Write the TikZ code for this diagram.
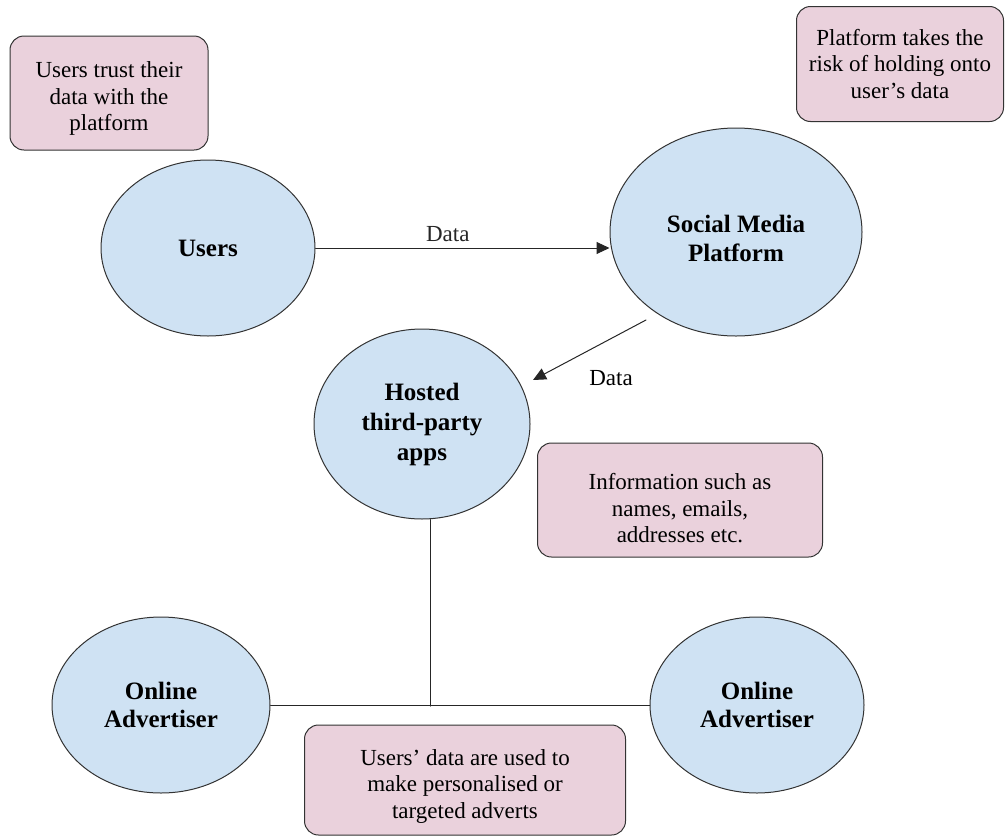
\documentclass[tikz,border=0pt]{standalone}
\usepackage{fontspec}
\setmainfont{Liberation Serif}
\usetikzlibrary{shapes.geometric,arrows.meta}
\definecolor{ovalblue}{RGB}{207,226,243}
\definecolor{notepink}{RGB}{234,209,220}
\begin{document}
\begin{tikzpicture}[x=1pt,y=-1pt,line join=round,line cap=round,
		oval/.style={ellipse,draw=black!80,fill=ovalblue,line width=1pt,inner sep=0pt,align=center,font=\fontsize{25}{28.5}\selectfont\bfseries},
		note/.style={rectangle,rounded corners=14pt,draw=black!80,fill=notepink,line width=1pt,align=center,font=\fontsize{23}{26.5}\selectfont},
		link/.style={black!85,line width=1pt},
		>={Triangle[length=13pt,width=12pt]}]
	\useasboundingbox (0,0) rectangle (1006,838);
	% ovals
	\node[oval,minimum width=214pt,minimum height=176pt] (users) at (208,248) {Users};
	\node[oval,minimum width=252pt,minimum height=208pt,text height=59pt] (platform) at (736,232) {Social Media\\Platform};
	\node[oval,minimum width=216pt,minimum height=190pt,font=\fontsize{25}{30}\selectfont\bfseries] (hosted) at (422,424) {Hosted\\third-party\\apps};
	\node[oval,minimum width=218pt,minimum height=176pt] (advL) at (161,705) {Online\\Advertiser};
	\node[oval,minimum width=214pt,minimum height=176pt] (advR) at (757,705) {Online\\Advertiser};
	% notes
	\node[note,minimum width=198pt,minimum height=114pt,text height=80pt] (trust) at (109,93) {Users trust their\\data with the\\platform};
	\node[note,minimum width=207pt,minimum height=115pt] (risk) at (900,64) {Platform takes the\\risk of holding onto\\user’s data};
	\node[note,minimum width=285pt,minimum height=114pt,text height=85.7pt] (info) at (680,500) {Information such as\\names, emails,\\addresses etc.};
	\node[note,minimum width=321pt,minimum height=110pt,text height=81.7pt] (adverts) at (465,780) {Users’ data are used to\\make personalised or\\targeted adverts};
	% connectors
	\coordinate (d1) at (646,320);
	\coordinate (d2) at (533,380);
	\coordinate (j) at (430,706);
	\draw[link,->] (users) -- (platform.west |- users) node[pos=0.45,above=2pt,font=\fontsize{23}{26.5}\selectfont] (lab1) {Data};
	\draw[link,->] (d1) -- (d2);
	\node[font=\fontsize{23}{26.5}\selectfont] (lab2) at (611,378) {Data};
	\draw[link] (j |- hosted.south) -- (j);
	\draw[link] (advL) -- (advR);
\end{tikzpicture}
\end{document}
